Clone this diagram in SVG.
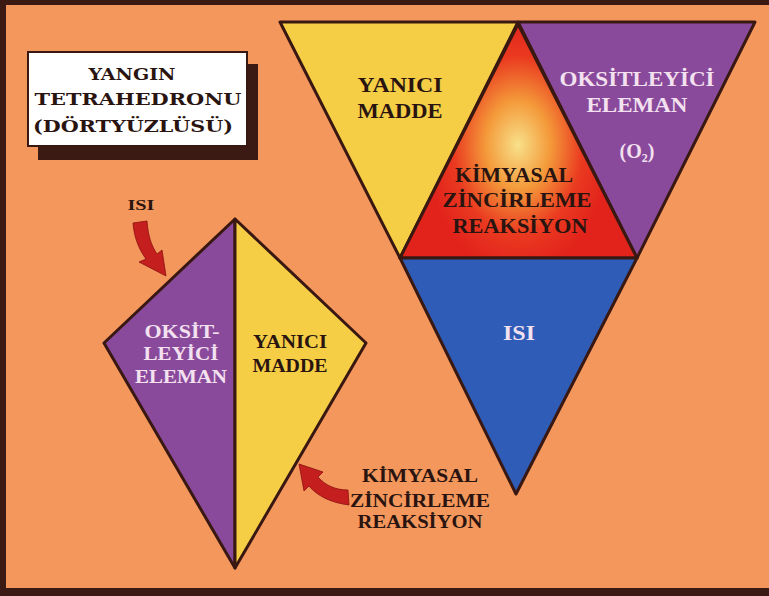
<svg xmlns="http://www.w3.org/2000/svg" width="769" height="596" viewBox="0 0 769 596">
<defs>
<style>
.t{font-family:"Liberation Serif","Times New Roman",serif;font-weight:bold;text-anchor:middle}
.tt{font-family:"DejaVu Serif","Liberation Serif",serif;font-weight:bold;text-anchor:middle}
.dk{fill:#2a1410}
.lt{fill:#f3e1f0}
.edge{stroke:#3a1812;stroke-width:3;stroke-linejoin:round}
.arrow{fill:#c41e1e;stroke:#8a1010;stroke-width:0.8}
</style>
<radialGradient id="glow" cx="518" cy="145" r="115" gradientUnits="userSpaceOnUse" gradientTransform="translate(518 145) scale(0.8 1.1) translate(-518 -145)">
<stop offset="0" stop-color="#f8e08a"/>
<stop offset="0.35" stop-color="#f49a3a"/>
<stop offset="0.7" stop-color="#ea3a20"/>
<stop offset="1" stop-color="#e2231c"/>
</radialGradient>
</defs>
<rect x="0" y="0" width="769" height="596" fill="#3a1a12"/>
<rect x="6" y="5" width="763" height="583" fill="#f4975c"/>

<g id="title">
<rect x="38" y="64" width="220" height="96" fill="#3a1a12"/>
<rect x="28" y="52" width="219" height="94" fill="#ffffff" stroke="#3a1812" stroke-width="2"/>
<text class="tt dk" x="132" y="80" font-size="17" textLength="87" lengthAdjust="spacingAndGlyphs">YANGIN</text>
<text class="tt dk" x="138" y="105" font-size="17" textLength="207" lengthAdjust="spacingAndGlyphs">TETRAHEDRONU</text>
<text class="tt dk" x="133" y="132" font-size="17" textLength="200" lengthAdjust="spacingAndGlyphs">(DÖRTYÜZLÜSÜ)</text>
</g>

<g id="big-tetrahedron">
<g id="yanici-madde">
<polygon class="edge" points="280,22 518,22 400,258" fill="#f5ce45"/>
<text class="t dk" x="400" y="92" font-size="20" textLength="85" lengthAdjust="spacingAndGlyphs">YANICI</text>
<text class="t dk" x="400" y="118" font-size="20" textLength="85" lengthAdjust="spacingAndGlyphs">MADDE</text>
</g>
<g id="oksitleyici">
<polygon class="edge" points="518,22 755,22 637,258" fill="#8a4a9c"/>
<text class="t lt" x="637" y="86" font-size="20" textLength="155" lengthAdjust="spacingAndGlyphs">OKSİTLEYİCİ</text>
<text class="t lt" x="637" y="112" font-size="20" textLength="101" lengthAdjust="spacingAndGlyphs">ELEMAN</text>
<text class="t lt" x="637" y="158" font-size="20">(O<tspan font-size="12" dy="4">2</tspan><tspan dy="-4">)</tspan></text>
</g>
<g id="kimyasal">
<polygon class="edge" points="518,24 400,258 637,258" fill="url(#glow)"/>
<text class="t dk" x="514" y="182" font-size="20" textLength="118" lengthAdjust="spacingAndGlyphs">KİMYASAL</text>
<text class="t dk" x="517" y="207" font-size="20" textLength="149" lengthAdjust="spacingAndGlyphs">ZİNCİRLEME</text>
<text class="t dk" x="520" y="233" font-size="20" textLength="135" lengthAdjust="spacingAndGlyphs">REAKSİYON</text>
</g>
<g id="isi">
<polygon class="edge" points="400,258 637,258 516,494" fill="#2e5cb6"/>
<text class="t lt" x="519" y="340" font-size="22" textLength="32" lengthAdjust="spacingAndGlyphs">ISI</text>
</g>
</g>

<g id="kite">
<g id="kite-oksit">
<polygon class="edge" points="235,219 104,343 235,568" fill="#8a4a9c"/>
<text class="t lt" x="182" y="338" font-size="18" textLength="75" lengthAdjust="spacingAndGlyphs">OKSİT-</text>
<text class="t lt" x="181" y="360" font-size="18" textLength="75" lengthAdjust="spacingAndGlyphs">LEYİCİ</text>
<text class="t lt" x="181" y="383" font-size="18" textLength="92" lengthAdjust="spacingAndGlyphs">ELEMAN</text>
</g>
<g id="kite-yanici">
<polygon class="edge" points="235,219 366,343 235,568" fill="#f5ce45"/>
<text class="t dk" x="290" y="348" font-size="18" textLength="74" lengthAdjust="spacingAndGlyphs">YANICI</text>
<text class="t dk" x="290" y="372" font-size="18" textLength="75" lengthAdjust="spacingAndGlyphs">MADDE</text>
</g>
</g>

<g id="labels">
<text class="t dk" x="141" y="210" font-size="15" textLength="27" lengthAdjust="spacingAndGlyphs">ISI</text>
<text class="t dk" x="420" y="482" font-size="19" textLength="116" lengthAdjust="spacingAndGlyphs">KİMYASAL</text>
<text class="t dk" x="420" y="507" font-size="19" textLength="140" lengthAdjust="spacingAndGlyphs">ZİNCİRLEME</text>
<text class="t dk" x="420" y="528" font-size="19" textLength="125" lengthAdjust="spacingAndGlyphs">REAKSİYON</text>
</g>

<g id="connectors">
<path class="arrow" d="M133,223 L147,221 C148,235 151,245 157,254 L162,250 L166,276 L139,262 L146,259 C138,248 134,236 133,223 Z"/>
<path class="arrow" d="M349,505 L348,490 C335,490 325,485 318,477 L323,472 L299,464 L304,491 L309,486 C318,497 333,503 349,505 Z"/>
</g>
</svg>
